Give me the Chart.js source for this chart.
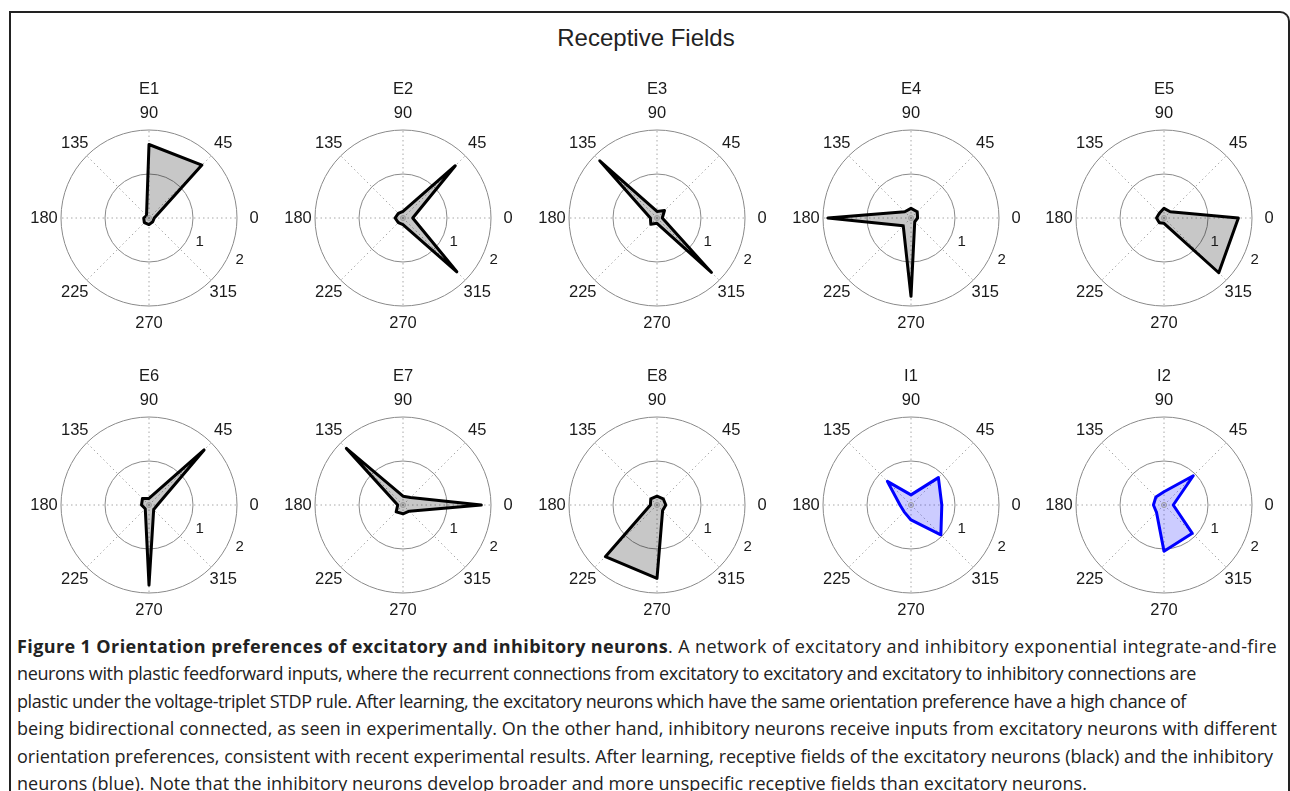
<!DOCTYPE html>
<html>
<head>
<meta charset="utf-8">
<script src="https://cdn.jsdelivr.net/npm/chart.js"></script>
<style>
  body { margin: 0; background: #fff; width: 1290px; height: 791px; overflow: hidden; position: relative; }
  #frame { position: absolute; left: 9px; top: 11px; width: 1277px; height: 800px;
           border: 2px solid #222; border-bottom: none; border-top-right-radius: 10px; }
  #title { position: absolute; left: 0; width: 1292px; top: 24px; text-align: center;
           font: 24px "Liberation Sans", Arial, sans-serif; color: #222; }
  canvas { position: absolute; }
  #caption { position: absolute; left: 17px; top: 633px; font: 18px "Open Sans", sans-serif;
             color: #222; line-height: 27.4px; white-space: nowrap; }
  #caption span { display: inline-block; }
</style>
</head>
<body>
<div id="frame"></div>
<div id="title">Receptive Fields</div>
<div id="caption">
  <div><span data-end="1277"><b>Figure 1 Orientation preferences of excitatory and inhibitory neurons</b>. A network of excitatory and inhibitory exponential integrate-and-fire</span></div>
  <div><span data-end="1196">neurons with plastic feedforward inputs, where the recurrent connections from excitatory to excitatory and excitatory to inhibitory connections are</span></div>
  <div><span data-end="1186">plastic under the voltage-triplet STDP rule. After learning, the excitatory neurons which have the same orientation preference have a high chance of</span></div>
  <div><span data-end="1277">being bidirectional connected, as seen in experimentally. On the other hand, inhibitory neurons receive inputs from excitatory neurons with different</span></div>
  <div><span data-end="1273">orientation preferences, consistent with recent experimental results. After learning, receptive fields of the excitatory neurons (black) and the inhibitory</span></div>
  <div><span data-end="1087">neurons (blue). Note that the inhibitory neurons develop broader and more unspecific receptive fields than excitatory neurons.</span></div>
</div>
<script>
// angles in clockwise order starting at the top (radar draws clockwise)
var angleLabels = ['90', '45', '0', '315', '270', '225', '180', '135'];
var tickLabels = [1, 2];
var panelNames = ['E1', 'E2', 'E3', 'E4', 'E5', 'E6', 'E7', 'E8', 'I1', 'I2'];

// response per direction, same order as angleLabels
var E1 = [1.67, 1.70, 0.12, 0.12, 0.15, 0.15, 0.12, 0.08];
var E2 = [0.15, 1.68, 0.22, 1.73, 0.15, 0.15, 0.18, 0.15];
var E3 = [0.15, 0.24, 0.12, 1.75, 0.12, 0.20, 0.15, 1.84];
var E4 = [0.22, 0.20, 0.15, 0.12, 1.78, 0.25, 1.89, 0.20];
var E5 = [0.22, 0.20, 1.69, 1.76, 0.12, 0.15, 0.17, 0.15];
var E6 = [0.15, 1.77, 0.19, 0.15, 1.82, 0.12, 0.17, 0.21];
var E7 = [0.20, 0.24, 1.78, 0.20, 0.20, 0.22, 0.12, 1.82];
var E8 = [0.20, 0.20, 0.20, 0.18, 1.67, 1.66, 0.15, 0.20];
var I1 = [0.23, 0.88, 0.70, 0.96, 0.34, 0.22, 0.25, 0.76];
var I2 = [0.30, 0.94, 0.21, 0.91, 1.05, 0.24, 0.24, 0.26];

var panelData = [E1, E2, E3, E4, E5, E6, E7, E8, I1, I2];
var centersX = [149, 403, 657, 911, 1164];
var centersY = [218, 505];

// stretch/squeeze each caption line so it ends where the original does
document.querySelectorAll('#caption span').forEach(function(sp) {
    var r = sp.getBoundingClientRect();
    var target = parseFloat(sp.getAttribute('data-end')) - r.left;
    var n = sp.textContent.length;
    sp.style.letterSpacing = ((target - r.width) / n) + 'px';
});

var labelPlugin = {
    id: 'polarText',
    afterDraw: function(chart) {
        var s = chart.scales.r;
        var ctx = chart.ctx;
        ctx.save();
        // little centre marker
        ctx.strokeStyle = '#999';
        ctx.lineWidth = 1;
        ctx.beginPath();
        ctx.arc(s.xCenter, s.yCenter, 2.5, 0, Math.PI * 2);
        ctx.stroke();

        ctx.fillStyle = '#1a1a1a';
        ctx.textAlign = 'center';
        ctx.textBaseline = 'middle';
        ctx.font = '16.5px "Liberation Sans", Arial, sans-serif';
        angleLabels.forEach(function(lab, i) {
            var p = s.getPointPosition(i, s.drawingArea + 17);
            ctx.fillText(lab, p.x, p.y);
        });
        ctx.font = '15px "Liberation Sans", Arial, sans-serif';
        tickLabels.forEach(function(v) {
            var p = s.getPointPosition(2, s.getDistanceFromCenterForValue(v) + 12, 25 * Math.PI / 180);
            ctx.fillText(String(v), p.x, p.y);
        });
        ctx.font = '16.5px "Liberation Sans", Arial, sans-serif';
        ctx.fillText(chart.options.plugins.polarText.name, s.xCenter, s.yCenter - 129);
        ctx.restore();
    }
};

for (var k = 0; k < panelData.length; ++k) {
    var inhib = panelNames[k].charAt(0) == 'I';
    var cv = document.createElement('canvas');
    cv.width = 254;
    cv.height = 290;
    cv.style.left = (centersX[k % 5] - 127) + 'px';
    cv.style.top = (centersY[Math.floor(k / 5)] - 145) + 'px';
    document.body.appendChild(cv);

    new Chart(cv, {
        type: 'radar',
        plugins: [labelPlugin],
        data: {
            labels: angleLabels,
            datasets: [{
                data: panelData[k],
                borderColor: inhib ? '#0000ff' : '#000000',
                backgroundColor: inhib ? 'rgba(0,0,255,0.2)' : 'rgba(0,0,0,0.22)',
                borderWidth: 3,
                borderJoinStyle: 'round',
                pointRadius: 0,
                fill: true,
                tension: 0
            }]
        },
        options: {
            responsive: false,
            animation: false,
            layout: { padding: { left: 39, right: 39, top: 57, bottom: 57 } },
            plugins: {
                legend: { display: false },
                tooltip: { enabled: false },
                polarText: { name: panelNames[k] }
            },
            scales: {
                r: {
                    min: 0,
                    max: 2,
                    startAngle: 0,
                    ticks: { display: false, stepSize: 1 },
                    pointLabels: { display: false },
                    grid: { circular: true, color: '#8a8a8a', lineWidth: 1 },
                    angleLines: { color: '#a8a8a8', lineWidth: 1, borderDash: [1.5, 3] }
                }
            }
        }
    });
}
</script>
</body>
</html>
